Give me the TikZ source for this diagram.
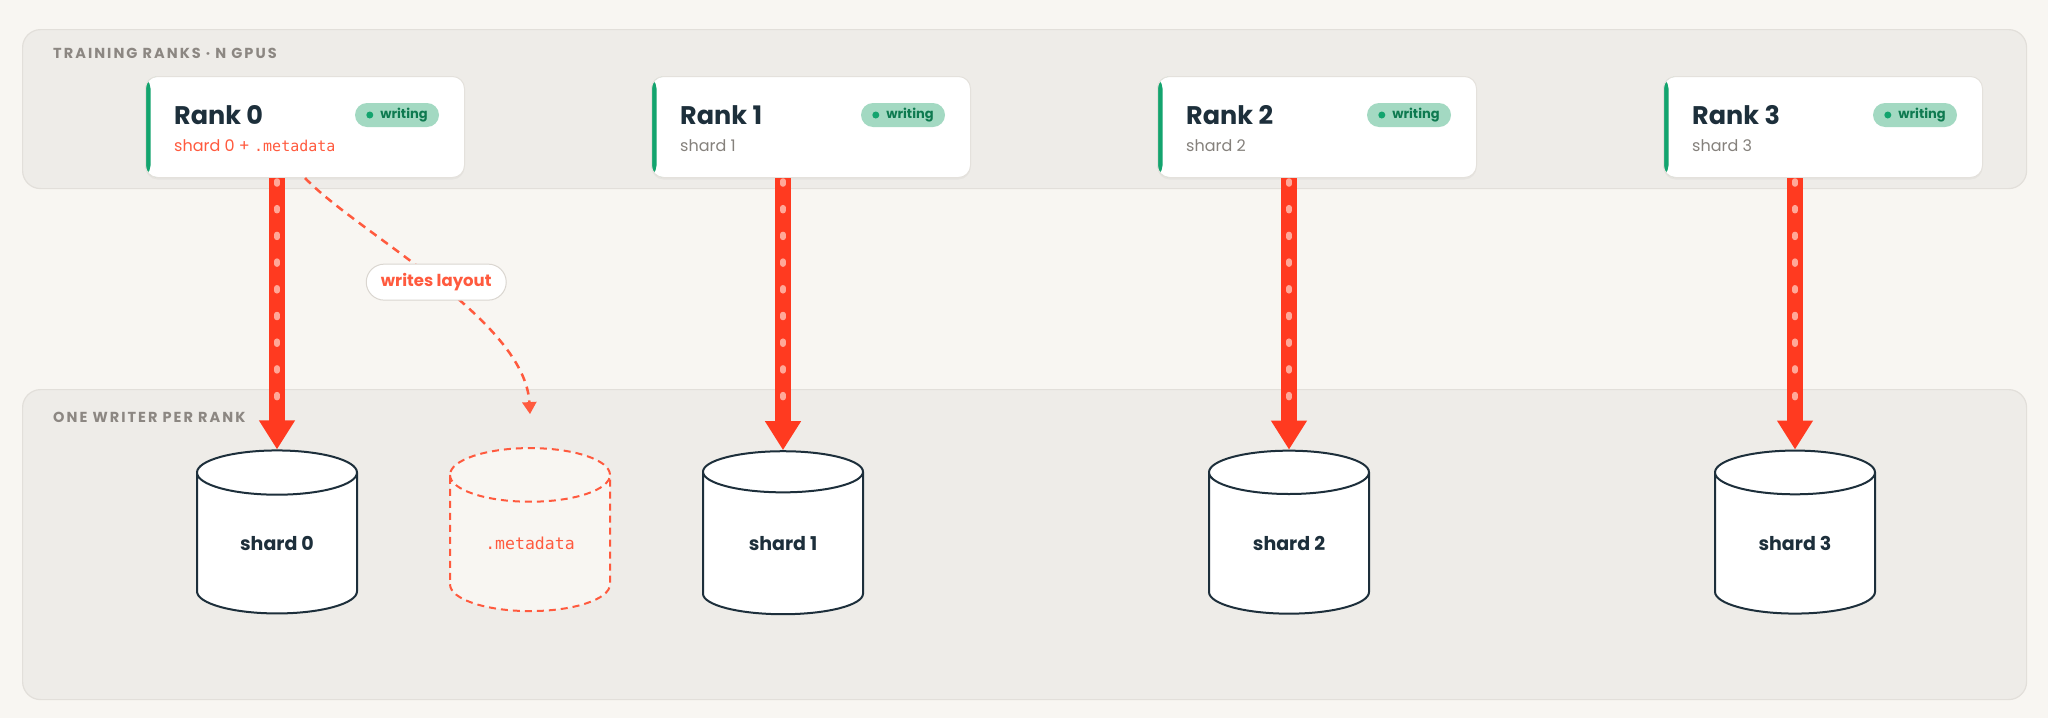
\documentclass[tikz,border=0pt]{standalone}
\usepackage{fontspec}
\setmainfont{Poppins}
\setmonofont{DejaVu Sans Mono}
\usetikzlibrary{calc}
\usetikzlibrary{arrows.meta,shapes.geometric,shadows}

\definecolor{pagebg}{HTML}{F8F6F2}
\definecolor{panelfill}{HTML}{EEECE8}
\definecolor{panelline}{HTML}{E2DFDA}
\definecolor{panelgray}{HTML}{8C8782}
\definecolor{cardline}{HTML}{E4E1DC}
\definecolor{barGreen}{HTML}{13A46E}
\definecolor{pillfill}{HTML}{A3D9C2}
\definecolor{pilltext}{HTML}{0E7A50}
\definecolor{ink}{HTML}{1D2F3B}
\definecolor{subgray}{HTML}{85817C}
\definecolor{coral}{HTML}{FF5A3E}
\definecolor{arrowred}{HTML}{FF3A20}
\definecolor{dotpink}{HTML}{FFA898}
\definecolor{labelline}{HTML}{DAD6D0}

\begin{document}
\begin{tikzpicture}[x=1pt,y=-1pt,
  panel/.style={draw=panelline,fill=panelfill,line width=1.2pt,rounded corners=18pt,anchor=north west,inner sep=0pt},
  paneltitle/.style={anchor=base west,text=panelgray,inner sep=0pt,font=\fontsize{14.5}{15}\selectfont\bfseries\addfontfeatures{LetterSpace=14}},
  card/.style={draw=cardline,fill=white,line width=1pt,rounded corners=12pt,anchor=north west,minimum width=319pt,minimum height=101pt,
    drop shadow={opacity=0.07,shadow xshift=0pt,shadow yshift=-2pt},
    path picture={\fill[barGreen] (path picture bounding box.south west) rectangle ([xshift=5pt]path picture bounding box.north west);}},
  ranktitle/.style={anchor=base west,text=ink,inner sep=0pt,font=\fontsize{25.5}{28}\selectfont\bfseries},
  shardsub/.style={anchor=base west,text=subgray,inner sep=0pt,font=\fontsize{16}{18}\selectfont},
  pill/.style={fill=pillfill,rounded corners=12pt,minimum width=84pt,minimum height=24pt,inner sep=0pt,text=pilltext,font=\fontsize{13}{14}\selectfont\bfseries},
  cyl/.style={cylinder,shape border rotate=90,aspect=0.6,minimum width=160pt,minimum height=163pt,inner sep=0pt,draw=ink,line width=2pt,fill=white,text=ink,font=\fontsize{19}{20}\selectfont\bfseries},
  writearrow/.style={draw=arrowred,line width=16pt,-{Triangle[width=34pt,length=29pt]}},
  arrowdots/.style={draw=dotpink,line width=5.5pt,line cap=round,dash pattern=on 3pt off 23.7pt},
  layoutarrow/.style={draw=coral,line width=2.5pt,dash pattern=on 8pt off 6pt,-{Triangle[width=14pt,length=12pt]}},
  layoutlabel/.style={solid,draw=labelline,fill=white,line width=1pt,rounded corners=18pt,minimum width=140pt,minimum height=36pt,inner sep=0pt,text=coral,font=\fontsize{16.5}{17}\selectfont\bfseries}
]
  \useasboundingbox (0,0) rectangle (2048,718);
  \fill[pagebg] (0,0) rectangle (2048,718);

  \node[panel,minimum width=2004pt,minimum height=159pt] (ranks) at (22,29) {};
  \node[panel,minimum width=2004pt,minimum height=310pt] (writers) at (22,389) {};
  \node[paneltitle] (ranksT) at ($(ranks.north west)+(31,29)$) {TRAINING RANKS · N GPUS};
  \node[paneltitle] (writersT) at ($(writers.north west)+(31,33)$) {ONE WRITER PER RANK};

  \node[card] (r0) at (145,76) {};
  \node[card] (r1) at (651,76) {};
  \node[card] (r2) at (1157,76) {};
  \node[card] (r3) at (1663,76) {};

  \node[ranktitle] (t0) at ($(r0.north west)+(29,48)$) {Rank 0};
  \node[ranktitle] (t1) at ($(r1.north west)+(29,48)$) {Rank 1};
  \node[ranktitle] (t2) at ($(r2.north west)+(29,48)$) {Rank 2};
  \node[ranktitle] (t3) at ($(r3.north west)+(29,48)$) {Rank 3};

  \node[shardsub,text=coral] (u0) at ($(r0.north west)+(29,75)$) {shard 0 + {\ttfamily\fontsize{15}{18}\selectfont .metadata}};
  \node[shardsub] (u1) at ($(r1.north west)+(29,75)$) {shard 1};
  \node[shardsub] (u2) at ($(r2.north west)+(29,75)$) {shard 2};
  \node[shardsub] (u3) at ($(r3.north west)+(29,75)$) {shard 3};

  \node[pill] (p0) at ($(r0.north west)+(252,39)$) {\hspace{14pt}writing};
  \node[pill] (p1) at ($(r1.north west)+(252,39)$) {\hspace{14pt}writing};
  \node[pill] (p2) at ($(r2.north west)+(252,39)$) {\hspace{14pt}writing};
  \node[pill] (p3) at ($(r3.north west)+(252,39)$) {\hspace{14pt}writing};
  \fill[barGreen] ($(p0.west)+(15,0)$) circle (3.5pt);
  \fill[barGreen] ($(p1.west)+(15,0)$) circle (3.5pt);
  \fill[barGreen] ($(p2.west)+(15,0)$) circle (3.5pt);
  \fill[barGreen] ($(p3.west)+(15,0)$) circle (3.5pt);

  \node[cyl] (s0) at (277,543.5) {shard 0};
  \node[cyl,draw=coral,fill=pagebg,dash pattern=on 7pt off 5pt,text=coral,font=\ttfamily\fontsize{16.5}{18}\selectfont] (meta) at (530,543.5) {.metadata};
  \node[cyl] (s1) at (783,543.5) {shard 1};
  \node[cyl] (s2) at (1289,543.5) {shard 2};
  \node[cyl] (s3) at (1795,543.5) {shard 3};

  \draw[writearrow] (r0.south -| s0.north) -- (s0.north);
  \draw[writearrow] (r1.south -| s1.north) -- (s1.north);
  \draw[writearrow] (r2.south -| s2.north) -- (s2.north);
  \draw[writearrow] (r3.south -| s3.north) -- (s3.north);
  \draw[arrowdots] ($(r0.south -| s0.north)+(0,3)$) -- ($(s0.north)+(0,-32)$);
  \draw[arrowdots] ($(r1.south -| s1.north)+(0,3)$) -- ($(s1.north)+(0,-32)$);
  \draw[arrowdots] ($(r2.south -| s2.north)+(0,3)$) -- ($(s2.north)+(0,-32)$);
  \draw[arrowdots] ($(r3.south -| s3.north)+(0,3)$) -- ($(s3.north)+(0,-32)$);

  \draw[layoutarrow] (r0.south) .. controls (360,235) and (525,320) .. ($(meta.north)+(0,-33)$)
    node[layoutlabel,pos=0.5] (wl) {writes layout};
\end{tikzpicture}
\end{document}
